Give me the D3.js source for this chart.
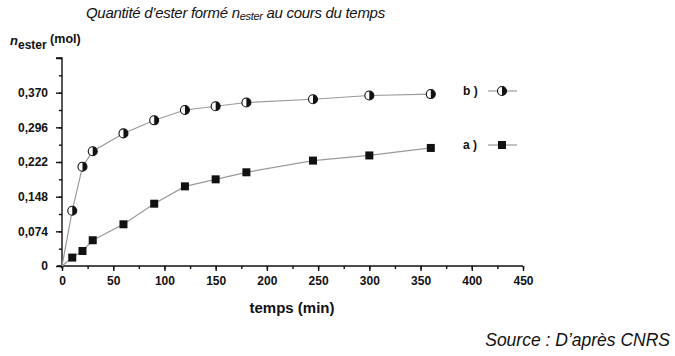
<!DOCTYPE html>
<html><head><meta charset="utf-8">
<script src="https://cdn.jsdelivr.net/npm/d3@7"></script>
<style>
body{margin:0;background:#fff;}
text{font-family:"Liberation Sans",Arial,sans-serif;}
</style></head>
<body><svg id="c" width="675" height="356"></svg>
<script>
const times = [0, 10, 20, 30, 60, 90, 120, 150, 180, 245, 300, 360];
const seriesA = [0, 0.018, 0.032, 0.055, 0.089, 0.133, 0.170, 0.185, 0.200, 0.225, 0.236, 0.252];
const seriesB = [0, 0.118, 0.212, 0.245, 0.283, 0.311, 0.333, 0.341, 0.349, 0.356, 0.364, 0.367];
const xTicks = [0, 50, 100, 150, 200, 250, 300, 350, 400, 450];
const yTicks = [0, 0.074, 0.148, 0.222, 0.296, 0.370];
const yTickLabels = ["0", "0,074", "0,148", "0,222", "0,296", "0,370"];
const legendLabels = ["b )", "a )"];

const svg = d3.select("#c");
const x = d3.scaleLinear().domain([0, 450]).range([62, 523]);
const y = d3.scaleLinear().domain([0, 0.444]).range([266, 58]);

// Title
const title = svg.append("text").attr("x", 86).attr("y", 18)
  .style("font-style", "italic").style("font-size", "15px").style("letter-spacing", "-0.3px").attr("fill", "#111");
title.append("tspan").text("Quantité d’ester formé ");
title.append("tspan").text("n");
title.append("tspan").text("ester").attr("dy", 2).style("font-size", "11px");
title.append("tspan").text(" au cours du temps").attr("dy", -2);

// Y label
const yl = svg.append("text").attr("x", 10).attr("y", 45).attr("fill", "#111")
  .style("font-weight", "bold");
yl.append("tspan").text("n").style("font-style", "italic").style("font-size", "13px");
yl.append("tspan").text("ester").attr("dy", 4).style("font-size", "12px");
yl.append("tspan").text(" (mol)").attr("dy", -6).style("font-size", "12.5px");

// Axes
const yMinor = d3.range(0, 13).map(i => i * 0.037);
const gy = svg.append("g").attr("transform", "translate(62,0)");
gy.call(d3.axisLeft(y).tickValues(yMinor).tickSize(3).tickFormat(""));
gy.call(g => g.select(".domain").remove());
const gyMaj = svg.append("g").attr("transform", "translate(62,0)")
  .call(d3.axisLeft(y).tickValues(yTicks.concat([0.444])).tickSize(6).tickPadding(8)
    .tickFormat((d) => { const i = yTicks.indexOf(d); return i >= 0 ? yTickLabels[i] : ""; }));
gyMaj.select(".domain").attr("d", `M-6,${y(0.444)}H0V${y(0)+2}`);
gyMaj.selectAll("text").style("font-size", "12px").style("font-weight", "bold").attr("fill", "#111");

const xMinor = d3.range(0, 19).map(i => i * 25);
const gx = svg.append("g").attr("transform", "translate(0,266)");
gx.call(d3.axisBottom(x).tickValues(xMinor).tickSize(3).tickFormat(""));
gx.call(g => g.select(".domain").remove());
const gxMaj = svg.append("g").attr("transform", "translate(0,266)")
  .call(d3.axisBottom(x).tickValues(xTicks).tickSize(5).tickPadding(5).tickFormat(d3.format("d")));
gxMaj.select(".domain").attr("d", `M${x(0)-5},0H${x(450)}`);
gxMaj.selectAll("text").style("font-size", "12px").style("font-weight", "bold").attr("fill", "#111");
svg.selectAll(".tick line, .domain").attr("stroke", "#111").attr("stroke-width", 1.4);
gyMaj.select(".domain").attr("fill", "none");

// X label
svg.append("text").attr("x", 292).attr("y", 313).attr("text-anchor", "middle")
  .style("font-weight", "bold").style("font-size", "15px").attr("fill", "#111").text("temps (min)");

// Source
svg.append("text").attr("x", 670).attr("y", 346).attr("text-anchor", "end")
  .style("font-style", "italic").style("font-size", "17.5px").attr("fill", "#111").text("Source : D’après CNRS");

// Lines
const line = d3.line().x((d, i) => x(times[i])).y(d => y(d));
[seriesB, seriesA].forEach(s => {
  svg.append("path").attr("d", line(s)).attr("fill", "none").attr("stroke", "#9a9a9a").attr("stroke-width", 1.2);
});

function halfCircle(g, cx, cy, r) {
  g.append("circle").attr("cx", cx).attr("cy", cy).attr("r", r).attr("fill", "#fff").attr("stroke", "#111").attr("stroke-width", 1.1);
  g.append("path").attr("d", `M${cx},${cy - r}A${r},${r} 0 0 1 ${cx},${cy + r}Z`).attr("fill", "#111");
}
function square(g, cx, cy, s) {
  g.append("rect").attr("x", cx - s / 2).attr("y", cy - s / 2).attr("width", s).attr("height", s).attr("fill", "#111");
}
const mk = svg.append("g");
seriesB.forEach((v, i) => { if (i > 0) halfCircle(mk, x(times[i]), y(v), 4.5); });
seriesA.forEach((v, i) => { if (i > 0) square(mk, x(times[i]), y(v), 8); });

// Legend
const legY = [91, 145];
legendLabels.forEach((lab, i) => {
  svg.append("text").attr("x", 463).attr("y", legY[i] + 4).style("font-weight", "bold")
    .style("font-size", "12px").attr("fill", "#111").text(lab);
  svg.append("line").attr("x1", 488).attr("x2", 517).attr("y1", legY[i]).attr("y2", legY[i])
    .attr("stroke", "#9a9a9a").attr("stroke-width", 1.2);
  if (i === 0) halfCircle(svg, 502, legY[i], 4.5); else square(svg, 502, legY[i], 8);
});
</script></body></html>
